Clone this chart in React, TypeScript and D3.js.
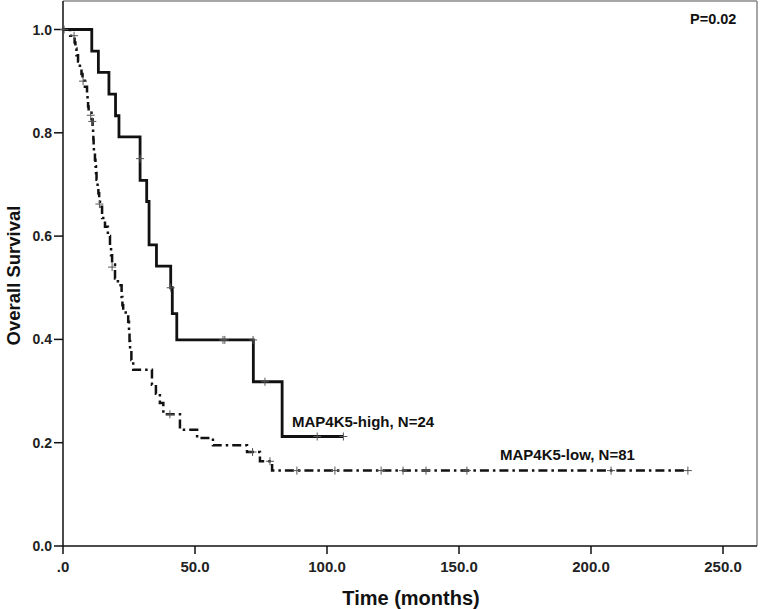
import React from "react";
import * as d3 from "d3";

// step points: [time in months, survival after the drop]
const highSteps: [number, number][] = [
  [10.9, 0.958], [13.4, 0.917], [17.4, 0.875], [19.9, 0.833], [21.2, 0.792],
  [29.2, 0.708], [31.7, 0.667], [32.6, 0.583], [35.4, 0.542], [40.8, 0.5],
  [41.4, 0.45], [43.1, 0.399], [72.1, 0.318], [83.0, 0.212],
];
const highEnd = 106.2;
const highCensor: [number, number][] = [
  [29.2, 0.75], [40.8, 0.5], [60.6, 0.399], [61.3, 0.399], [72.0, 0.399],
  [76.5, 0.318], [96.3, 0.212], [106.2, 0.212],
];

const lowSteps: [number, number][] = [
  [2.7, 0.988], [4.4, 0.975], [4.7, 0.963], [5.1, 0.95], [5.7, 0.938],
  [6.4, 0.926], [7.0, 0.914], [7.4, 0.901], [8.3, 0.889], [9.1, 0.876],
  [9.3, 0.864], [9.5, 0.851], [9.7, 0.839], [10.8, 0.826], [11.2, 0.813],
  [11.4, 0.8], [11.5, 0.787], [11.6, 0.774], [11.7, 0.761], [12.1, 0.748],
  [12.3, 0.735], [12.5, 0.722], [12.7, 0.709], [13.1, 0.696], [13.4, 0.683],
  [13.7, 0.67], [14.0, 0.657], [14.8, 0.635], [15.9, 0.618], [17.0, 0.6],
  [17.8, 0.581], [18.2, 0.563], [18.6, 0.545], [19.7, 0.518], [20.8, 0.505],
  [22.2, 0.482], [22.5, 0.466], [22.8, 0.452], [24.7, 0.434], [25.0, 0.415],
  [25.2, 0.397], [25.4, 0.379], [25.9, 0.36], [26.6, 0.341], [33.7, 0.312],
  [35.2, 0.295], [36.7, 0.277], [38.0, 0.255], [44.3, 0.225], [50.8, 0.209],
  [56.8, 0.195], [69.7, 0.182], [74.6, 0.164], [79.2, 0.146],
];
const lowEnd = 236.7;
const lowCensor: [number, number][] = [
  [0.4, 1.0], [4.2, 0.988], [7.6, 0.9], [10.5, 0.834], [11.1, 0.822],
  [13.8, 0.662], [18.6, 0.54], [40.5, 0.255], [71.8, 0.182], [78.4, 0.164],
  [88.6, 0.146], [103.0, 0.146], [120.5, 0.146], [128.8, 0.146], [137.5, 0.146],
  [153.0, 0.146], [207.6, 0.146], [236.7, 0.146],
];

const xTicks = [0, 50, 100, 150, 200, 250];
const xTickLabels = [".0", "50.0", "100.0", "150.0", "200.0", "250.0"];
const yTicks = [0, 0.2, 0.4, 0.6, 0.8, 1.0];
const yTickLabels = ["0.0", "0.2", "0.4", "0.6", "0.8", "1.0"];

const W = 762;
const H = 609;
const left = 63;
const right = 757;
const top = 1;
const bottom = 546;
const font = "'Liberation Sans', Arial, Helvetica, sans-serif";

export default function App() {
  const x = d3.scaleLinear().domain([0, 250]).range([left, left + 250 * 2.64]);
  const y = d3.scaleLinear().domain([0, 1]).range([bottom, bottom - 516.5]);

  const line = d3
    .line<[number, number]>()
    .x((d) => x(d[0]))
    .y((d) => y(d[1]))
    .curve(d3.curveStepAfter);

  const build = (steps: [number, number][], end: number) => {
    const pts: [number, number][] = [[0, 1], ...steps];
    pts.push([end, steps[steps.length - 1][1]]);
    return line(pts) || "";
  };

  const marks = (pts: [number, number][], key: string) =>
    pts.map((d, i) => (
      <g key={key + i} transform={`translate(${x(d[0])},${y(d[1])})`} stroke="#555" strokeWidth={1}>
        <line x1={0} x2={0} y1={-4} y2={4} />
        <line x1={-4} x2={4} y1={0} y2={0} />
      </g>
    ));

  return (
    <svg width={W} height={H} style={{ position: "absolute", left: 0, top: 0, background: "#fff" }} fontFamily={font}>
      <rect x={0} y={0} width={W} height={H} fill="#fff" />
      {/* frame */}
      <line x1={left} x2={right} y1={top} y2={top} stroke="#888" strokeWidth={1.5} />
      <line x1={right} x2={right} y1={top} y2={bottom} stroke="#888" strokeWidth={1.5} />
      <line x1={left} x2={left} y1={top} y2={bottom} stroke="#111" strokeWidth={1.5} />
      <line x1={left} x2={right} y1={bottom} y2={bottom} stroke="#111" strokeWidth={1.5} />

      {yTicks.map((t, i) => (
        <g key={"y" + i}>
          <line x1={left - 9} x2={left} y1={y(t)} y2={y(t)} stroke="#111" strokeWidth={1.5} />
          <text x={left - 11} y={y(t)} dy="0.36em" textAnchor="end" fontSize={14} fontWeight="bold" fill="#222">
            {yTickLabels[i]}
          </text>
        </g>
      ))}
      {xTicks.map((t, i) => (
        <g key={"x" + i}>
          <line x1={x(t)} x2={x(t)} y1={bottom} y2={bottom + 8} stroke="#111" strokeWidth={1.5} />
          <text x={x(t)} y={bottom + 26} textAnchor="middle" fontSize={15} fontWeight="bold" fill="#222">
            {xTickLabels[i]}
          </text>
        </g>
      ))}

      <text x={(left + right) / 2 + 1} y={605} textAnchor="middle" fontSize={20} fontWeight="bold" fill="#111">
        Time (months)
      </text>
      <text
        transform={`translate(20,${(top + bottom) / 2 + 2}) rotate(-90)`}
        textAnchor="middle"
        fontSize={18.5}
        fontWeight="bold"
        fill="#111"
      >
        Overall Survival
      </text>

      <path d={build(lowSteps, lowEnd)} fill="none" stroke="#111" strokeWidth={2.5} strokeDasharray="9,4,2.5,4" />
      <path d={build(highSteps, highEnd)} fill="none" stroke="#111" strokeWidth={2.8} />
      {marks(lowCensor, "lc")}
      {marks(highCensor, "hc")}

      <text x={292} y={427} fontSize={15} fontWeight="bold" fill="#111">
        MAP4K5-high, N=24
      </text>
      <text x={500} y={460} fontSize={15} fontWeight="bold" fill="#111">
        MAP4K5-low, N=81
      </text>
      <text x={690} y={24} fontSize={14.5} fontWeight="bold" fill="#111">
        P=0.02
      </text>
    </svg>
  );
}
